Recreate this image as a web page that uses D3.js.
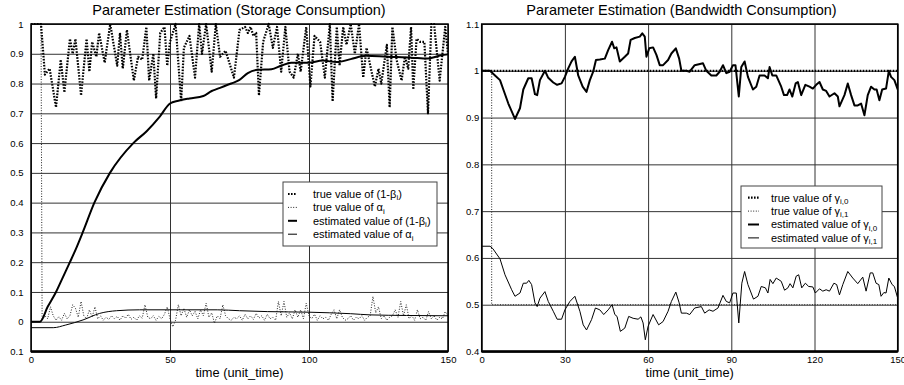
<!DOCTYPE html>
<html lang="en">
<head>
<meta charset="UTF-8">
<title>Parameter Estimation</title>
<style>
    body{ margin:0; background:#fff; }
    svg{ display:block; }
    text{ font-family: "Liberation Sans", Arial, sans-serif; fill:#000; }
</style>
<script src="https://cdn.jsdelivr.net/npm/d3@7/dist/d3.min.js"></script>
</head>
<body>
<script>
    // ---------- storage panel data ----------
    const storageXTicks = [0, 50, 100, 150]
    const storageYTicks = [-0.1, 0, 0.1, 0.2, 0.3, 0.4, 0.5, 0.6, 0.7, 0.8, 0.9, 1]
    const storageYLabels = ["0.1", "0", "0.1", "0.2", "0.3", "0.4", "0.5", "0.6", "0.7", "0.8", "0.9", "1"]

    // true value of (1-beta_i), [time, value]
    const betaTrue = [[0,1],[3.6,1],[5,0.83],[6.7,0.85],[9,0.72],[10.7,0.88],[12,0.77],[14,0.95],[15,0.9],
        [16,0.95],[18,0.76],[20,0.95],[21,0.84],[22,0.94],[23.5,0.89],[24.5,0.97],[26.5,0.87],[28.5,1.0],
        [31,0.86],[32,0.97],[33,0.85],[34.5,0.98],[37,0.81],[38.5,0.89],[40,0.88],[41.5,0.99],[42.5,0.81],
        [44,0.9],[45,0.75],[46.5,0.97],[48,0.99],[49,0.86],[50,0.94],[52,1.0],[54,0.74],[55,0.92],[57,0.96],
        [59,0.82],[60.5,1.0],[61.5,0.9],[63,1.0],[65,0.84],[66.5,1.0],[68,0.89],[70,0.91],[73,0.82],[75,0.98],
        [77,0.99],[78,0.97],[79,0.99],[80,0.96],[81,0.97],[82,0.76],[83.5,0.94],[85.5,1.0],[87,0.92],[88.5,0.99],
        [90,0.84],[91.5,0.99],[93,0.84],[94.5,0.82],[96,0.9],[97,0.84],[99,0.99],[100.5,0.79],[102,0.96],
        [104,0.94],[105.7,0.82],[107.5,1.0],[108.5,0.74],[110,0.99],[111,0.86],[112.3,0.99],[113.5,0.93],
        [115,1.0],[116.5,0.9],[118,1.0],[119.5,0.82],[120.7,0.92],[122.5,0.84],[123.7,0.79],[125,0.85],
        [126,0.8],[128,0.93],[129,0.72],[130,0.99],[131.5,0.88],[133.3,0.81],[134.5,0.89],[135.7,0.85],
        [136.7,0.99],[137.5,0.78],[138.7,0.95],[140,0.94],[141.5,0.94],[142.8,0.7],[144,1.0],[145,1.0],
        [147,0.81],[149,0.99],[150,0.9]]

    // true value of alpha_i: 1 before t=3.6, then one reading per time unit from t=4
    const alphaTrueStart = [[0,1],[3.6,1]]
    const alphaTrueValues = [0.005,0.02,0.01,0.05,0.02,0.005,0.017,0.005,0.028,0.01,0.02,0.057,0.045,0.015,
        0.068,0.02,0.01,0.04,0.015,0.05,0.01,0.02,0.005,0.015,0.008,0.02,0.01,0.018,0.005,0.02,0.012,0.025,
        0.008,0.015,0.005,0.02,0.012,0.057,0.015,0.01,0.02,0.005,0.018,0.01,0.025,0.05,0.01,-0.017,0.005,
        0.057,0.02,0.045,0.015,0.04,0.02,0.035,0.01,0.04,0.02,0.062,0.015,0.03,-0.005,0.02,0.01,0.057,0.02,
        0.01,0.005,0.015,0.01,0.02,0.005,0.025,0.01,0.02,0.008,0.028,0.012,0.02,0.005,0.025,0.01,0.015,0.005,
        0.068,0.02,0.068,0.015,0.03,0.01,0.04,0.015,0.04,0.01,0.062,0.02,0.01,0.025,0.005,0.02,0.01,0.015,
        0.005,0.025,0.04,0.01,0.04,0.015,0.005,0.01,0.02,0.005,0.015,0.01,0.02,0.005,0.015,0.02,0.085,0.03,
        0.05,0.01,0.02,0.005,0.015,0.02,0.04,0.015,0.068,0.02,0.057,0.01,0.02,0.005,0.04,0.01,0.015,0.005,
        0.034,0.01,0.02,0.005,0.015,0.01,0.034,0.02]

    // estimated value of (1-beta_i)
    const betaEst = [[0,0],[3.2,0],[6,0.05],[9,0.1],[11.5,0.15],[14,0.2],[16.4,0.25],[18.6,0.3],[22.8,0.4],
        [28.4,0.5],[36.8,0.6],[41.6,0.64],[46.4,0.69],[50,0.733],[53,0.742],[57,0.75],[62,0.758],[65,0.775],
        [67,0.782],[72,0.8],[75,0.812],[78,0.835],[81.6,0.846],[86.5,0.848],[90,0.86],[93.6,0.87],[99.5,0.87],
        [105,0.877],[110,0.872],[115,0.882],[120.6,0.893],[128,0.89],[136.8,0.887],[142.8,0.884],[147.6,0.895],
        [150,0.898]]

    // estimated value of alpha_i
    const alphaEst = [[0,-0.02],[8,-0.02],[12.5,-0.011],[18.7,0.006],[24.7,0.028],[30.8,0.037],[39,0.04],
        [50,0.04],[67,0.04],[75,0.037],[85,0.034],[100,0.032],[115,0.027],[122,0.023],[135,0.021],[150,0.02]]

    // ---------- bandwidth panel data ----------
    const bwXTicks = [0, 30, 60, 90, 120, 150]
    const bwYTicks = [0.4, 0.5, 0.6, 0.7, 0.8, 0.9, 1, 1.1]
    const bwYLabels = ["0.4", "0.5", "0.6", "0.7", "0.8", "0.9", "1", "1.1"]

    const gamma0True = [[0,1],[150,1]]
    const gamma1True = [[0,1],[3.6,1],[3.6,0.5],[150,0.5]]

    const gamma0Est = [[0,1.0],[3,1.0],[4.8,0.99],[6.6,0.98],[7.8,0.96],[9.6,0.93],[12,0.897],[13.8,0.92],
        [15,0.96],[16.8,0.984],[18,0.984],[19.2,0.95],[20,0.948],[21,0.98],[22.8,1.0],[24,0.985],[25.8,0.975],
        [27.2,0.97],[28.8,0.973],[30,0.987],[31.2,1.005],[32.4,1.02],[33.6,1.03],[34.8,0.99],[36.4,0.966],
        [37.8,0.955],[39,0.98],[40.2,0.998],[41.2,1.023],[42.6,1.024],[44.4,1.026],[45.6,1.044],[47,1.062],
        [47.8,1.048],[48.6,1.05],[49.8,1.02],[51.6,1.03],[52.8,1.037],[53.7,1.066],[55.2,1.07],[57,1.073],
        [57.9,1.08],[58.8,1.073],[59.4,1.03],[60.4,1.048],[61.8,1.05],[63,1.034],[64.2,1.012],[65.4,1.012],
        [67.2,1.023],[68.4,1.037],[70,1.048],[71.2,1.026],[72,1.0],[73.8,1.0],[75,0.998],[76.8,1.012],
        [79.8,1.016],[81,1.0],[82.8,0.99],[84.6,0.99],[85.8,0.998],[87,1.012],[88.2,0.995],[89.4,0.998],
        [90.6,1.012],[91.5,1.012],[92.7,0.945],[93.6,1.008],[94.8,1.02],[96,0.987],[97.8,0.96],[99,0.966],
        [100.2,0.99],[102,0.99],[103.2,0.984],[103.8,1.008],[104.8,0.99],[106.2,0.99],[108,0.966],[109,0.948],
        [110.1,0.948],[111,0.96],[112,0.945],[113.2,0.973],[114,0.976],[115.2,0.948],[116.7,0.97],[118.2,0.966],
        [119.4,0.962],[120.6,0.97],[121.8,0.976],[123,0.96],[124.2,0.957],[125.4,0.945],[127.2,0.952],
        [128.4,0.945],[129,0.924],[130.8,0.948],[132,0.973],[133.2,0.948],[134.4,0.926],[135.6,0.926],
        [136.8,0.93],[138,0.905],[139.2,0.948],[140.4,0.966],[141.6,0.96],[142.4,0.96],[143.4,0.937],
        [144.4,0.96],[145.8,0.962],[146.8,1.0],[147.6,0.987],[148.8,0.98],[150,0.96]]

    const gamma1Est = [[0,0.625],[3,0.625],[4,0.62],[6.6,0.598],[8.4,0.564],[10.8,0.532],[12,0.518],
        [13.8,0.525],[15,0.546],[16.2,0.546],[17,0.552],[18,0.543],[19.2,0.504],[20,0.496],[21,0.514],
        [22.8,0.528],[24,0.507],[25.8,0.486],[27.2,0.469],[28.8,0.469],[30,0.489],[31.8,0.507],[33.6,0.518],
        [35.4,0.486],[36.6,0.457],[37.8,0.446],[39.6,0.468],[41,0.493],[42.6,0.489],[44,0.479],[45.6,0.489],
        [47,0.5],[48,0.479],[48.8,0.475],[50,0.443],[51.6,0.45],[53,0.475],[54.6,0.471],[56.4,0.469],
        [57.4,0.474],[58.2,0.461],[59,0.425],[60,0.454],[61.8,0.479],[63.8,0.457],[65.4,0.464],[67.2,0.486],
        [68.4,0.507],[70,0.527],[71.2,0.504],[72,0.482],[73.8,0.482],[75,0.479],[76.8,0.493],[79.2,0.496],
        [80.4,0.482],[82,0.489],[83.4,0.486],[85.2,0.493],[87,0.52],[88.2,0.507],[89.4,0.504],[90.6,0.525],
        [91.8,0.525],[92.7,0.461],[93.8,0.546],[94.8,0.571],[96,0.543],[98,0.512],[99.6,0.518],[100.8,0.539],
        [102.3,0.536],[103.2,0.525],[104,0.554],[105,0.545],[106.2,0.557],[108,0.55],[109.2,0.531],
        [110.4,0.536],[111.2,0.545],[112.2,0.536],[113.4,0.561],[114.3,0.564],[115.4,0.536],[116.7,0.546],
        [117.9,0.539],[119.4,0.538],[120.3,0.525],[121.8,0.534],[123,0.529],[124.2,0.532],[125.4,0.529],
        [127,0.546],[128,0.543],[129,0.521],[130.2,0.543],[132,0.571],[133.8,0.557],[135.6,0.545],
        [137.4,0.559],[138.6,0.529],[140.1,0.568],[141,0.568],[142.2,0.546],[143.2,0.543],[144,0.518],
        [145,0.526],[145.8,0.525],[146.8,0.557],[148,0.543],[148.8,0.539],[150,0.514]]

    // ---------- line styles ----------
    const styles = {
        trueThick: {w: 2.2, dash: "1.6 1.4", color: "#000"},
        trueThin:  {w: 1, dash: "1 1.6", color: "#222"},
        estThick:  {w: 2, dash: null, color: "#000"},
        estThin:   {w: 1, dash: null, color: "#000"}
    }

    const width = 904, height = 385
    let svg = d3.select("body").append("svg")
        .attr("width", width).attr("height", height)
        .attr("viewBox", `0 0 ${width} ${height}`)

    function drawPanel(p) {
        const x = d3.scaleLinear().domain([0, 150]).range([p.left, p.right])
        const y = d3.scaleLinear().domain(p.yDomain).range([p.bottom, p.top])
        const g = svg.append("g")

        // grid + tick labels
        const yAxis = g.append("g")
            .attr("transform", `translate(${p.left},0)`)
            .call(d3.axisLeft(y).tickValues(p.yTicks)
                .tickFormat((d, i) => p.yLabels[i])
                .tickSize(-(p.right - p.left)).tickPadding(p.yPad))
        const xAxis = g.append("g")
            .attr("transform", `translate(0,${p.bottom})`)
            .call(d3.axisBottom(x).tickValues(p.xTicks)
                .tickSize(-(p.bottom - p.top)).tickPadding(5.2))
        g.selectAll(".domain").remove()
        g.selectAll(".tick line").attr("stroke", "#333").attr("stroke-width", 1)
        g.selectAll(".tick text").attr("font-size", 9.5).attr("font-family", null).attr("fill", "#000")
        yAxis.attr("font-family", null)
        xAxis.attr("font-family", null)

        // series
        const clipId = "clip" + p.id
        svg.append("clipPath").attr("id", clipId)
            .append("rect")
            .attr("x", p.left).attr("y", p.top - 2)
            .attr("width", p.right - p.left).attr("height", p.bottom - p.top + 2)
        const gSeries = g.append("g").attr("clip-path", `url(#${clipId})`)
        p.series.forEach(s => {
            const st = styles[s.style]
            const line = d3.line().x(d => x(d[0])).y(d => y(d[1]))
                .curve(s.smooth ? d3.curveMonotoneX : d3.curveLinear)
            gSeries.append("path")
                .datum(s.data)
                .attr("d", line)
                .attr("fill", "none")
                .attr("stroke", st.color)
                .attr("stroke-width", st.w)
                .attr("stroke-dasharray", st.dash)
                .attr("stroke-linejoin", "round")
        })

        // frame
        g.append("rect")
            .attr("x", p.left).attr("y", p.top)
            .attr("width", p.right - p.left).attr("height", p.bottom - p.top)
            .attr("fill", "none").attr("stroke", "#000").attr("stroke-width", 1.5)
        g.append("line")
            .attr("x1", p.left).attr("x2", p.right)
            .attr("y1", p.bottom).attr("y2", p.bottom)
            .attr("stroke", "#000").attr("stroke-width", 2.5)

        // title + x label
        g.append("text").text(p.title)
            .attr("x", p.titleX).attr("y", 15)
            .attr("text-anchor", "middle").attr("font-size", 14.5)
        g.append("text").text("time (unit_time)")
            .attr("x", (p.left + p.right) / 2).attr("y", 376.5)
            .attr("text-anchor", "middle").attr("font-size", 12.8)

        // legend
        const L = p.legend
        const gl = g.append("g")
        gl.append("rect")
            .attr("x", L.x).attr("y", L.y).attr("width", L.w).attr("height", L.h)
            .attr("fill", "#fff").attr("stroke", "#444").attr("stroke-width", 1)
        p.series.forEach((s, i) => {
            const st = styles[s.style]
            const ry = L.y + L.first + i * L.step
            gl.append("line")
                .attr("x1", L.symX).attr("x2", L.symX + L.symW)
                .attr("y1", ry).attr("y2", ry)
                .attr("stroke", st.color).attr("stroke-width", st.w)
                .attr("stroke-dasharray", st.dash)
            const t = gl.append("text")
                .attr("x", L.textX).attr("y", ry + 3.8)
                .attr("font-size", 11)
            t.append("tspan").text(s.label[0])
            t.append("tspan").text(s.label[1]).attr("font-size", 8).attr("dy", 2.5)
            if (s.label[2]) t.append("tspan").text(s.label[2]).attr("dy", -2.5)
        })
    }

    drawPanel({
        id: "storage",
        left: 31, right: 448, top: 24, bottom: 351.5,
        yDomain: [-0.1, 1], yTicks: storageYTicks, yLabels: storageYLabels, yPad: 7.5,
        xTicks: storageXTicks,
        title: "Parameter Estimation (Storage Consumption)", titleX: 239,
        legend: {x: 283, y: 182, w: 154, h: 64, first: 12, step: 13.4, symX: 288, symW: 9, textX: 313},
        series: [
            {data: betaTrue, style: "trueThick", label: ["true value of (1-β", "i", ")"]},
            {data: alphaTrueStart.concat(alphaTrueValues.map((v, i) => [i + 4, v])), style: "trueThin",
                label: ["true value of α", "i"]},
            {data: betaEst, style: "estThick", smooth: true, label: ["estimated value of (1-β", "i", ")"]},
            {data: alphaEst, style: "estThin", smooth: true, label: ["estimated value of α", "i"]}
        ]
    })

    drawPanel({
        id: "bandwidth",
        left: 481.7, right: 897.7, top: 24, bottom: 351.5,
        yDomain: [0.4, 1.1], yTicks: bwYTicks, yLabels: bwYLabels, yPad: 2.5,
        xTicks: bwXTicks,
        title: "Parameter Estimation (Bandwidth Consumption)", titleX: 681.5,
        legend: {x: 741, y: 186, w: 141, h: 62, first: 11.7, step: 13.4, symX: 748, symW: 11, textX: 771},
        series: [
            {data: gamma0True, style: "trueThick", label: ["true value of γ", "i,0"]},
            {data: gamma1True, style: "trueThin", label: ["true value of γ", "i,1"]},
            {data: gamma0Est, style: "estThick", label: ["estimated value of γ", "i,0"]},
            {data: gamma1Est, style: "estThin", label: ["estimated value of γ", "i,1"]}
        ]
    })
</script>
</body>
</html>
